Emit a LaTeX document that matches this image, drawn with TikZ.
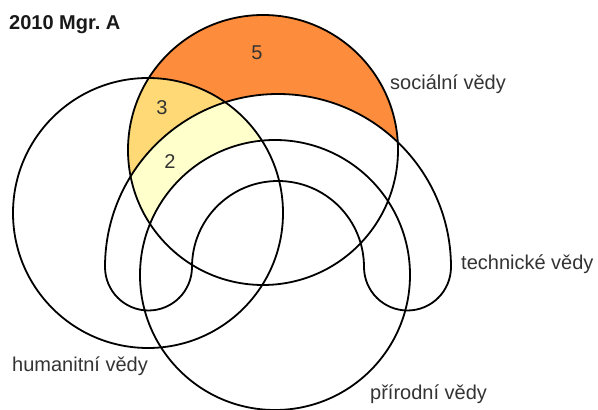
\documentclass[tikz,border=0pt]{standalone}
\usepackage{fontspec}
\setmainfont{Liberation Sans}
\definecolor{cfive}{HTML}{FD8D3C}
\definecolor{cthree}{HTML}{FED976}
\definecolor{ctwo}{HTML}{FFFFCC}
\definecolor{labelgray}{HTML}{333333}
\frenchspacing
\begin{document}
\begin{tikzpicture}[x=1pt,y=1pt,
  outline/.style={draw=black,line width=1.8pt},
  setlabel/.style={anchor=base west,inner sep=0pt,text=labelgray,font=\fontsize{20}{24}\selectfont},
  numlabel/.style={anchor=center,inner sep=0pt,text=labelgray,font=\fontsize{20}{24}\selectfont},
  titlelabel/.style={anchor=base west,inner sep=0pt,text=black!90,font=\fontsize{20}{24}\selectfont\bfseries}]
\useasboundingbox (0,0) rectangle (598,410);
\def\shapeH{(148,197) circle[radius=135]}
\def\shapeS{(263,260) circle[radius=135]}
\def\shapeP{(275,135) circle[radius=135]}
\def\shapeT{(105,143) arc[start angle=180,end angle=0,radius=173]
  arc[start angle=0,end angle=-180,radius=43.5]
  arc[start angle=0,end angle=180,radius=86]
  arc[start angle=0,end angle=-180,radius=43.5] -- cycle}
% fills
\fill[cfive] \shapeS;
\begin{scope}
  \clip \shapeS;
  \fill[cthree] \shapeH;
  \fill[white] \shapeT;
  \clip \shapeH;
  \fill[ctwo] \shapeT;
\end{scope}
\fill[white] \shapeP;
% outlines
\draw[outline] \shapeH;
\draw[outline] \shapeS;
\draw[outline] \shapeP;
\draw[outline] \shapeT;
% labels
\node[titlelabel] (title) at (9,380) {2010 Mgr. A};
\node[setlabel] (lS) at (390,320) {sociální vědy};
\node[setlabel] (lT) at (461,140) {technické vědy};
\node[setlabel] (lH) at (12,38) {humanitní vědy};
\node[setlabel] (lP) at (370,10) {přírodní vědy};
\node[numlabel] (n5) at (257,357) {5};
\node[numlabel] (n3) at (162,302) {3};
\node[numlabel] (n2) at (170,248) {2};
\end{tikzpicture}
\end{document}
